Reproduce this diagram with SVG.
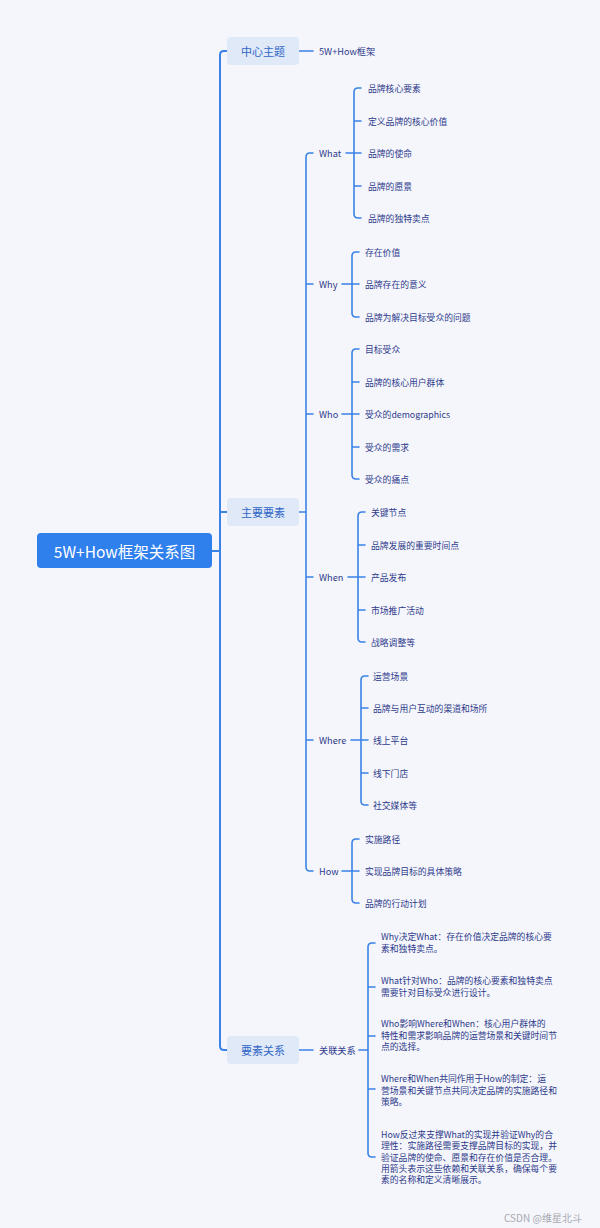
<svg xmlns="http://www.w3.org/2000/svg" width="600" height="1228" viewBox="0 0 600 1228">
<style>
text{font-family:"Noto Sans CJK SC","Noto Sans",sans-serif;dominant-baseline:central}
.c{fill:none;stroke:#3A82E6;stroke-width:1.6;stroke-linecap:round;stroke-linejoin:round}
.main{stroke-width:2}
.l1box{fill:#E0E9F8}
.l1{font-size:11px;fill:#2F66C6;text-anchor:middle}
.it{font-size:8.8px;fill:#2D3A8A}
.l2{font-size:9.2px;fill:#2D3A8A}
.p{font-size:8.8px;fill:#2D3A8A;dominant-baseline:auto}
</style>
<rect width="600" height="1228" fill="#F5F6FC"/>
<g id="connectors">
<path class="c main" d="M212 551 H220 M227 51 H224 Q220 51 220 55 V1046 Q220 1050 224 1050 H227 M220 512 H227"/>
<path class="c" d="M299 51 H313"/>
<path class="c" d="M299 512 H306 M313 153 H310 Q306 153 306 157 V867 Q306 871 310 871 H313 M306 284 H313 M306 414 H313 M306 577 H313 M306 740 H313"/>
<path class="c" d="M346 153 H354 M361 88 H358 Q354 88 354 92 V214 Q354 218 358 218 H361 M354 121 H361 M354 153 H361 M354 186 H361"/>
<path class="c" d="M342 284 H352 M359 252 H356 Q352 252 352 256 V313 Q352 317 356 317 H359 M352 284 H359"/>
<path class="c" d="M342 414 H352 M359 349 H356 Q352 349 352 353 V475 Q352 479 356 479 H359 M352 382 H359 M352 414 H359 M352 447 H359"/>
<path class="c" d="M348 577 H358 M365 512 H362 Q358 512 358 516 V638 Q358 642 362 642 H365 M358 545 H365 M358 577 H365 M358 610 H365"/>
<path class="c" d="M351 740 H361 M368 676 H365 Q361 676 361 680 V801 Q361 805 365 805 H368 M361 708 H368 M361 740 H368 M361 773 H368"/>
<path class="c" d="M342 871 H352 M359 839 H356 Q352 839 352 843 V899 Q352 903 356 903 H359 M352 871 H359"/>
<path class="c" d="M299 1050 H313"/>
<path class="c" d="M359 1050 H368 M375 943 H372 Q368 943 368 947 V1153 Q368 1157 372 1157 H375 M368 987 H375 M368 1036 H375 M368 1089 H375"/>
</g>
<g id="root">
<rect x="37" y="533" width="175" height="35" rx="4" fill="#2F80ED"/>
<text x="124.5" y="551" font-size="15.5" fill="#fff" text-anchor="middle">5W+How框架关系图</text>
</g>
<g id="center-topic">
<rect class="l1box" x="227" y="37" width="72" height="28" rx="4"/>
<text class="l1" x="263" y="51">中心主题</text>
</g>
<g id="framework"><text class="l2" x="319" y="51">5W+How框架</text></g>
<g id="main-elements">
<rect class="l1box" x="227" y="498" width="72" height="28" rx="4"/>
<text class="l1" x="263" y="512">主要要素</text>
</g>
<g id="relations">
<rect class="l1box" x="227" y="1036" width="72" height="28" rx="4"/>
<text class="l1" x="263" y="1050">要素关系</text>
</g>
<g id="what">
<text class="l2" x="319" y="153">What</text>
<text class="it" x="368" y="88">品牌核心要素</text>
<text class="it" x="368" y="121">定义品牌的核心价值</text>
<text class="it" x="368" y="153">品牌的使命</text>
<text class="it" x="368" y="186">品牌的愿景</text>
<text class="it" x="368" y="218">品牌的独特卖点</text>
</g>
<g id="why">
<text class="l2" x="319" y="284">Why</text>
<text class="it" x="365" y="252">存在价值</text>
<text class="it" x="365" y="284">品牌存在的意义</text>
<text class="it" x="365" y="317">品牌为解决目标受众的问题</text>
</g>
<g id="who">
<text class="l2" x="319" y="414">Who</text>
<text class="it" x="365" y="349">目标受众</text>
<text class="it" x="365" y="382">品牌的核心用户群体</text>
<text class="it" x="365" y="414">受众的demographics</text>
<text class="it" x="365" y="447">受众的需求</text>
<text class="it" x="365" y="479">受众的痛点</text>
</g>
<g id="when">
<text class="l2" x="319" y="577">When</text>
<text class="it" x="371" y="512">关键节点</text>
<text class="it" x="371" y="545">品牌发展的重要时间点</text>
<text class="it" x="371" y="577">产品发布</text>
<text class="it" x="371" y="610">市场推广活动</text>
<text class="it" x="371" y="642">战略调整等</text>
</g>
<g id="where">
<text class="l2" x="319" y="740">Where</text>
<text class="it" x="373" y="676">运营场景</text>
<text class="it" x="373" y="708">品牌与用户互动的渠道和场所</text>
<text class="it" x="373" y="740">线上平台</text>
<text class="it" x="373" y="773">线下门店</text>
<text class="it" x="373" y="805">社交媒体等</text>
</g>
<g id="how">
<text class="l2" x="319" y="871">How</text>
<text class="it" x="365" y="839">实施路径</text>
<text class="it" x="365" y="871">实现品牌目标的具体策略</text>
<text class="it" x="365" y="903">品牌的行动计划</text>
</g>
<g id="link">
<text class="l2" x="319" y="1050">关联关系</text>
<text class="p" x="381" y="940"><tspan x="381">Why决定What：存在价值决定品牌的核心要</tspan><tspan x="381" dy="11.5">素和独特卖点。</tspan></text>
<text class="p" x="381" y="984"><tspan x="381">What针对Who：品牌的核心要素和独特卖点</tspan><tspan x="381" dy="11.5">需要针对目标受众进行设计。</tspan></text>
<text class="p" x="381" y="1027"><tspan x="381">Who影响Where和When：核心用户群体的</tspan><tspan x="381" dy="11.5">特性和需求影响品牌的运营场景和关键时间节</tspan><tspan x="381" dy="11.5">点的选择。</tspan></text>
<text class="p" x="381" y="1082"><tspan x="381">Where和When共同作用于How的制定：运</tspan><tspan x="381" dy="11.5">营场景和关键节点共同决定品牌的实施路径和</tspan><tspan x="381" dy="11.5">策略。</tspan></text>
<text class="p" x="381" y="1138"><tspan x="381">How反过来支撑What的实现并验证Why的合</tspan><tspan x="381" dy="11.3">理性：实施路径需要支撑品牌目标的实现，并</tspan><tspan x="381" dy="11.3">验证品牌的使命、愿景和存在价值是否合理。</tspan><tspan x="381" dy="11.3">用箭头表示这些依赖和关联关系，确保每个要</tspan><tspan x="381" dy="11.3">素的名称和定义清晰展示。</tspan></text>
</g>
<g id="watermark"><text x="504" y="1217" font-size="10" fill="#A8A8B0">CSDN @维星北斗</text></g>
</svg>
